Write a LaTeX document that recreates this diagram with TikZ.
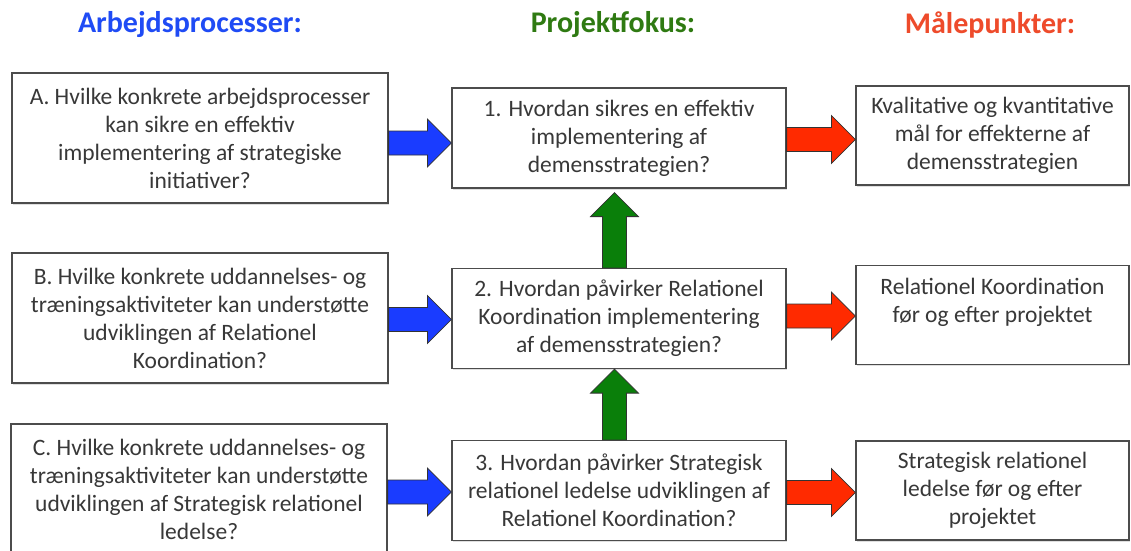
\documentclass[tikz,border=0pt]{standalone}
\usepackage{fontspec}
\setmainfont{Carlito}
\usetikzlibrary{calc,shadows}
\definecolor{txt}{HTML}{383838}
\definecolor{hblue}{HTML}{1F4BF5}
\definecolor{hgreen}{HTML}{2F7A12}
\definecolor{hred}{HTML}{EE4B2B}
\definecolor{ablue}{HTML}{1A3CFF}
\definecolor{agreen}{HTML}{0A7F0A}
\definecolor{ared}{HTML}{FF2A00}
\tikzset{
  box/.style={draw=black!70, line width=1.2pt, fill=white, align=center, text=txt,
    font=\fontsize{23.5}{28}\selectfont, inner sep=0pt,
    drop shadow={opacity=0.25, shadow xshift=1pt, shadow yshift=-1.5pt}},
  leftbox/.style={box, minimum width=376pt, minimum height=130pt},
  midbox/.style={box, minimum width=334pt, minimum height=100pt},
  rightbox/.style={box, minimum width=273pt, minimum height=99pt},
  head/.style={font=\fontsize{30}{36}\selectfont\bfseries},
  barrow/.style={draw=black!80, line width=0.8pt, fill=ablue},
  rarrow/.style={draw=black!80, line width=0.8pt, fill=ared},
  garrow/.style={draw=black!80, line width=0.8pt, fill=agreen},
}
% horizontal block arrow: style, tail point, tip point
\newcommand{\hblockarrow}[3]{%
  \path[#1] let \p1=(#2), \p2=(#3) in
    (\x1,\y2+12pt) -- (\x2-24pt,\y2+12pt) -- (\x2-24pt,\y2+24pt) -- (\x2,\y2)
    -- (\x2-24pt,\y2-24pt) -- (\x2-24pt,\y2-12pt) -- (\x1,\y2-12pt) -- cycle;}
% vertical (upward) block arrow: style, tail point, tip point
\newcommand{\vblockarrow}[3]{%
  \path[#1] let \p1=(#2), \p2=(#3) in
    (\x2+12pt,\y1) -- (\x2+12pt,\y2-24pt) -- (\x2+24pt,\y2-24pt) -- (\x2,\y2)
    -- (\x2-24pt,\y2-24pt) -- (\x2-12pt,\y2-24pt) -- (\x2-12pt,\y1) -- cycle;}
\begin{document}
\begin{tikzpicture}[x=1pt,y=-1pt]
\useasboundingbox (0,0) rectangle (1131,550);
\fill[white] (0,0) rectangle (1131,550);

\node[head, text=hblue]  (hA) at (190,25) {Arbejdsprocesser:};
\node[head, text=hgreen] (hP) at (613,25) {Projektfokus:};
\node[head, text=hred]   (hM) at (990,25) {Målepunkter:};

\node[leftbox, text depth=0pt] (A) at (200,138) {A. Hvilke konkrete arbejdsprocesser\\kan sikre en effektiv\\implementering af strategiske\\initiativer?};
\node[leftbox] (B) at (200,318) {B. Hvilke konkrete uddannelses- og\\træningsaktiviteter kan understøtte\\udviklingen af Relationel\\Koordination?};
\node[leftbox] (C) at (199,489) {C. Hvilke konkrete uddannelses- og\\træningsaktiviteter kan understøtte\\udviklingen af Strategisk relationel\\ledelse?};

\node[midbox] (one) at (619,138) {1. Hvordan sikres en effektiv\\implementering af\\demensstrategien?};
\node[midbox] (two) at (619,318.5) {2. Hvordan påvirker Relationel\\Koordination implementering\\af demensstrategien?};
\node[midbox] (three) at (619,490.5) {3. Hvordan påvirker Strategisk\\relationel ledelse udviklingen af\\Relationel Koordination?};

\node[rightbox] (K) at (992.5,135.5) {Kvalitative og kvantitative\\mål for effekterne af\\demensstrategien};
\node[rightbox] (R) at (992.5,315) {Relationel Koordination\\før og efter projektet\\[-8pt]\strut};
\node[rightbox] (S) at (992.5,490.5) {Strategisk relationel\\ledelse før og efter\\projektet};

% blue arrows
\hblockarrow{barrow}{A.east}{$(one.west)+(0,5)$}
\hblockarrow{barrow}{B.east}{$(two.west)+(0,1)$}
\hblockarrow{barrow}{C.east}{$(three.west)+(0,1.5)$}
% red arrows
\hblockarrow{rarrow}{one.east}{$(K.west)+(0,4)$}
\hblockarrow{rarrow}{two.east}{$(R.west)+(0,1)$}
\hblockarrow{rarrow}{three.east}{$(S.west)+(0,2)$}
% green arrows
\vblockarrow{garrow}{two.north}{$(one.south)+(-4.5,4)$}
\vblockarrow{garrow}{three.north}{$(two.south)+(-4.5,0)$}
\end{tikzpicture}
\end{document}
